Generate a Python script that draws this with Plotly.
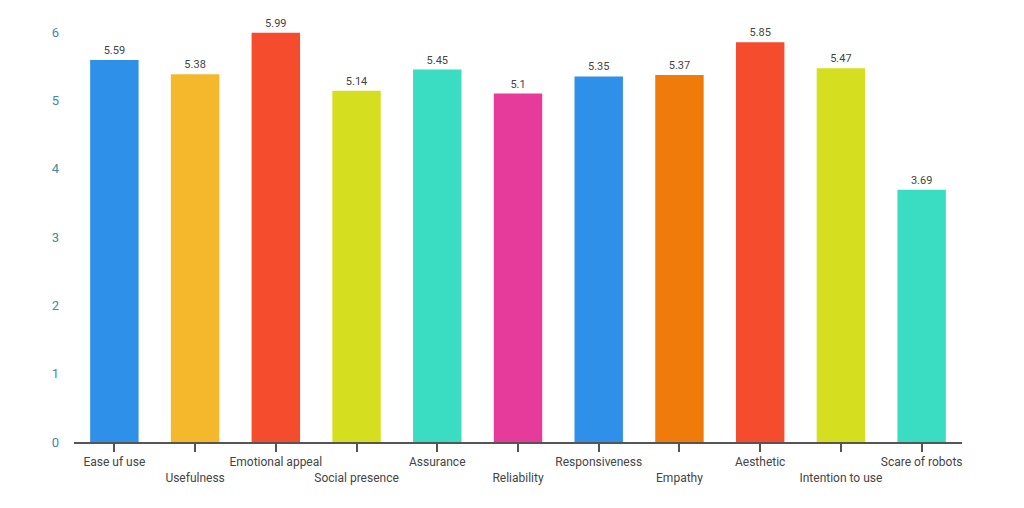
import plotly.graph_objects as go

categories = ["Ease uf use", "Usefulness", "Emotional appeal", "Social presence", "Assurance",
              "Reliability", "Responsiveness", "Empathy", "Aesthetic", "Intention to use", "Scare of robots"]
values = [5.59, 5.38, 5.99, 5.14, 5.45, 5.1, 5.35, 5.37, 5.85, 5.47, 3.69]
colors = ["#2e90e8", "#f5b72c", "#f54c2e", "#d6df1f", "#3adcc2", "#e63b9a",
          "#2e90e8", "#ef7b0a", "#f54c2e", "#d6df1f", "#3adcc2"]
tick_labels = [c if i % 2 == 0 else "<br>" + c for i, c in enumerate(categories)]

fig = go.Figure(go.Bar(
    x=categories, y=values, marker_color=colors, marker_line_width=0,
    text=[str(v) for v in values], textposition="outside",
    textfont=dict(color="#444", size=11, family="Roboto"),
    cliponaxis=False,
))
fig.update_layout(
    width=1016, height=500, plot_bgcolor="white", paper_bgcolor="white",
    margin=dict(l=66, r=62, t=24, b=66),
    bargap=0.4, showlegend=False,
    font=dict(family="Roboto", size=12, color="#444"),
)
fig.update_xaxes(tickvals=categories, ticktext=tick_labels, showline=True, linecolor="#555",
                 linewidth=2, ticks="outside", ticklen=8, tickcolor="#555", tickwidth=1.5,
                 showgrid=False, tickangle=0, tickfont=dict(size=12, color="#444"))
fig.update_yaxes(range=[0, 6], showgrid=False, zeroline=False, showline=False,
                 tickvals=[0, 1, 2, 3, 4, 5, 6], tickfont=dict(size=13, color="#3f8aa0"),
                 ticklabelstandoff=14)
fig.write_html("out.html")
